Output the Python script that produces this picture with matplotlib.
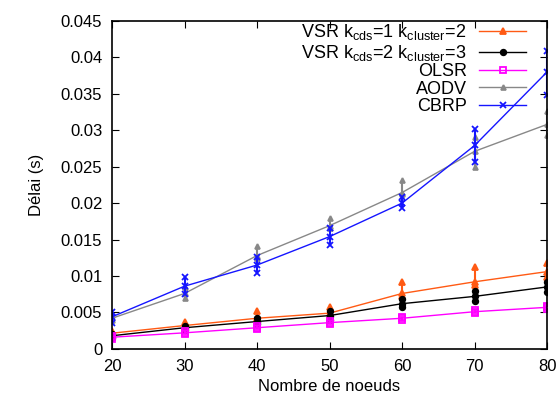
import matplotlib
matplotlib.use("Agg")
import matplotlib.pyplot as plt

plt.rcParams['font.family'] = ['Liberation Sans', 'DejaVu Sans']

nodes = [20, 30, 40, 50, 60, 70, 80]

# mean delay and errorbar bounds (s)
vsr1 = [0.00215, 0.0032, 0.0042, 0.0049, 0.0076, 0.0092, 0.0106]
vsr1_lo = [0.0019, 0.0030, 0.0040, 0.0047, 0.0072, 0.0088, 0.0099]
vsr1_hi = [0.0025, 0.0037, 0.0052, 0.0058, 0.0092, 0.0112, 0.0118]

vsr2 = [0.0018, 0.0029, 0.00375, 0.00457, 0.0062, 0.0072, 0.0085]
vsr2_lo = [0.0015, 0.0026, 0.0034, 0.0040, 0.0057, 0.0065, 0.0078]
vsr2_hi = [0.0021, 0.0032, 0.0042, 0.0052, 0.0068, 0.0080, 0.0092]

olsr = [0.0016, 0.0022, 0.0029, 0.0036, 0.0042, 0.0051, 0.0057]
olsr_lo = [0.0014, 0.0020, 0.0027, 0.0034, 0.0040, 0.0049, 0.0055]
olsr_hi = [0.0018, 0.0024, 0.0031, 0.0038, 0.0044, 0.0053, 0.0059]

aodv = [0.0042, 0.0076, 0.0128, 0.0169, 0.02145, 0.0271, 0.0308]
aodv_lo = [0.0039, 0.0070, 0.0125, 0.0166, 0.0212, 0.0250, 0.0293]
aodv_hi = [0.0046, 0.0085, 0.0141, 0.0180, 0.0232, 0.0290, 0.0326]

cbrp = [0.0044, 0.0086, 0.0115, 0.0154, 0.0200, 0.0279, 0.0380]
cbrp_lo = [0.0036, 0.0075, 0.0104, 0.0143, 0.0193, 0.0256, 0.0348]
cbrp_hi = [0.0050, 0.0098, 0.0126, 0.0166, 0.0208, 0.0301, 0.0409]

labels = [r'VSR k$_{\mathregular{cds}}$=1 k$_{\mathregular{cluster}}$=2',
          r'VSR k$_{\mathregular{cds}}$=2 k$_{\mathregular{cluster}}$=3',
          'OLSR', 'AODV', 'CBRP']

fig = plt.figure(figsize=(5.6, 4.01), dpi=100)
ax = fig.add_axes([0.2, 0.13, 0.777, 0.818])

series = [
    (vsr1, vsr1_lo, vsr1_hi, '#ff5a14', '^', 5, 'full'),
    (vsr2, vsr2_lo, vsr2_hi, 'black', 'o', 4, 'full'),
    (olsr, olsr_lo, olsr_hi, '#ff00ff', 's', 5, 'none'),
    (aodv, aodv_lo, aodv_hi, '#888888', '^', 3.5, 'full'),
    (cbrp, cbrp_lo, cbrp_hi, '#1515ff', 'x', 5, 'full'),
]

for (m, lo, hi, c, mk, ms, fill), lab in zip(series, labels):
    ax.vlines(nodes, lo, hi, color=c, lw=1.5)
    ax.plot(nodes, lo, ls='none', marker=mk, ms=ms, color=c, fillstyle=fill, mew=1.3)
    ax.plot(nodes, hi, ls='none', marker=mk, ms=ms, color=c, fillstyle=fill, mew=1.3)
    ax.plot(nodes, m, color=c, lw=1, marker=mk, ms=ms, fillstyle=fill, mew=1.3, label=lab)

ax.set_xlim(20, 80)
ax.set_ylim(0, 0.045)
ax.set_xticks(range(20, 81, 10))
ax.set_yticks([i * 0.005 for i in range(10)])
ax.set_yticklabels(['0', '0.005', '0.01', '0.015', '0.02', '0.025', '0.03', '0.035', '0.04', '0.045'])
ax.tick_params(direction='in', top=True, right=True, labelsize=12, length=5, pad=7)
for s in ax.spines.values():
    s.set_linewidth(1.2)

ax.set_xlabel('Nombre de noeuds', fontsize=12)
ax.set_ylabel('Délai (s)', fontsize=12, labelpad=12)

ax.legend(loc='upper right', frameon=False, markerfirst=False, fontsize=13,
          handlelength=2.6, labelspacing=0.02, borderaxespad=0, borderpad=0,
          bbox_to_anchor=(0.952, 0.995), handletextpad=0.7)

fig.savefig('out.png', dpi=100)
